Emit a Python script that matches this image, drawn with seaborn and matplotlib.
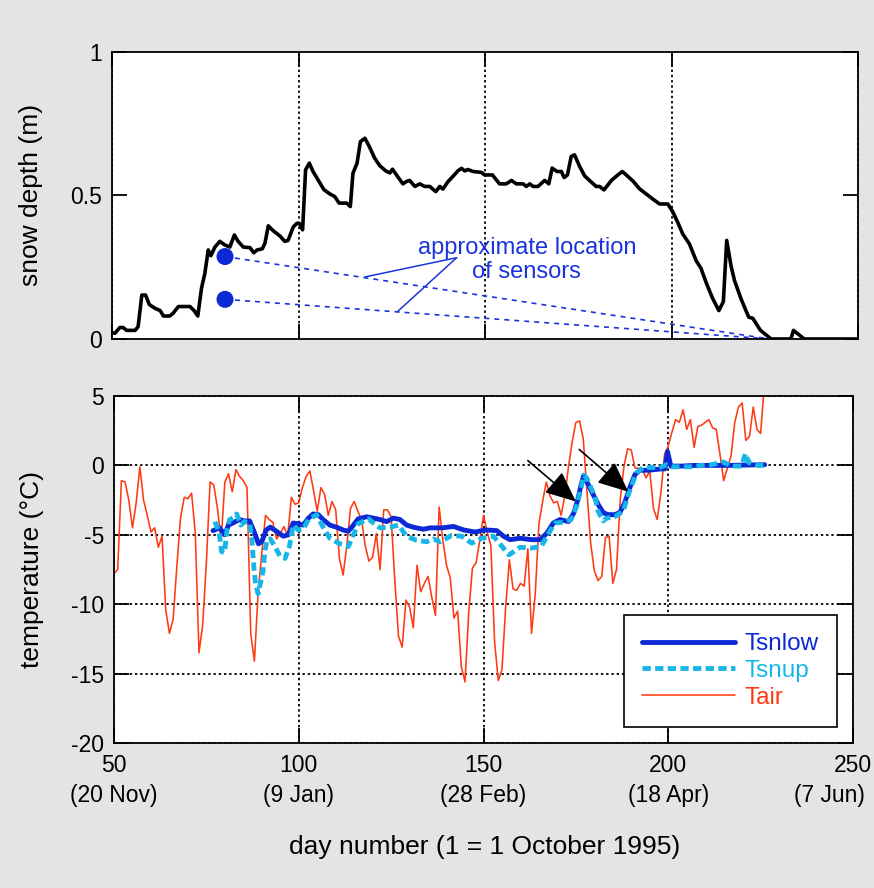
import numpy as np
import pandas as pd
import matplotlib
matplotlib.use("Agg")
import matplotlib.pyplot as plt
import seaborn as sns
from matplotlib.transforms import blended_transform_factory

# ---------------- data ----------------
snow_day = [50, 50.8, 52.1, 53, 53.9, 56.2, 57, 58, 59, 60, 61.5, 62.9, 63.8, 65.5, 66.4, 67.8,
            70.9, 72, 73, 74, 74.9, 75.8, 76.5, 77.6, 78.9, 80.3, 81.6, 82.8, 83.8, 85.2, 87, 88,
            88.9, 90.3, 91, 91.9, 93.2, 95, 96.3, 97.2, 98.6, 99.6, 100.4, 101.1, 101.9, 102.9,
            103.9, 105.5, 106.8, 108.4, 109.7, 110.9, 112.9, 113.9, 114.6, 115.7, 116.6, 117.8,
            118.9, 120.4, 121.8, 123.4, 124.5, 125.2, 126.7, 128, 128.9, 129.8, 131.2, 132.5,
            133.8, 135.2, 136.8, 137.9, 138.7, 140.1, 141.4, 142.8, 143.7, 144.6, 145.4, 146.8,
            149, 149.9, 152, 153.9, 155.7, 157.1, 158.4, 160.2, 161.1, 162, 162.9, 164.2, 166,
            167.1, 168, 169.3, 170.5, 171.2, 172.1, 173.1, 174, 175.4, 176.7, 178, 179.8, 180.7,
            181.9, 183.9, 185.6, 186.8, 188.3, 189.8, 191.4, 193.2, 195, 196.8, 199, 200.3, 201.7,
            203, 204.8, 206.6, 207.9, 209.3, 211, 212.7, 213.9, 214.8, 216, 216.9, 218.7, 220.7,
            221.8, 223.8, 226.7, 232, 232.7, 235.6, 250]
snow_depth = [0.022, 0.02, 0.04, 0.04, 0.03, 0.03, 0.043, 0.153, 0.153, 0.12, 0.107, 0.099, 0.08,
              0.08, 0.09, 0.113, 0.113, 0.099, 0.08, 0.177, 0.229, 0.31, 0.29, 0.32, 0.34, 0.327,
              0.32, 0.362, 0.34, 0.32, 0.318, 0.30, 0.31, 0.314, 0.333, 0.394, 0.377, 0.359, 0.34,
              0.343, 0.39, 0.403, 0.40, 0.38, 0.589, 0.612, 0.583, 0.548, 0.52, 0.505, 0.496,
              0.473, 0.473, 0.461, 0.577, 0.612, 0.687, 0.699, 0.672, 0.63, 0.603, 0.585, 0.578,
              0.591, 0.563, 0.54, 0.548, 0.552, 0.531, 0.54, 0.531, 0.531, 0.513, 0.531, 0.522,
              0.548, 0.566, 0.586, 0.594, 0.585, 0.59, 0.583,
              0.58, 0.571, 0.571, 0.54, 0.54, 0.552, 0.54, 0.54, 0.531, 0.54, 0.531, 0.531, 0.552,
              0.54, 0.595, 0.583, 0.583, 0.562, 0.571, 0.635, 0.641, 0.60, 0.568, 0.552, 0.531,
              0.531, 0.519, 0.552, 0.571, 0.583, 0.566, 0.548, 0.523, 0.505, 0.487, 0.47, 0.47,
              0.444, 0.405, 0.366, 0.331, 0.273, 0.246, 0.196, 0.142, 0.099, 0.13, 0.343, 0.252,
              0.203, 0.138, 0.076, 0.072, 0.031, 0.0, 0.0, 0.03, 0.0, 0.0]

sensor_day = [80.3, 80.3]
sensor_depth = [0.287, 0.138]
sensor_end_day = 226.3

tair_day = list(range(50, 227))
tair = [-7.8, -7.5, -1.1, -1.2, -2.5, -4.5, -2.7, -0.1, -2.5, -3.6,
        -4.8, -4.5, -5.9, -5.1, -10.4, -12.1, -11.1, -7.3, -3.8, -2.3,
        -2.4, -2.0, -4.9, -13.5, -11.5, -7.0, -1.2, -1.4, -3.1, -5.4,
        -1.2, -0.6, -1.9, -0.3, -0.8, -1.1, -1.6, -12.1, -14.1, -9.2,
        -6.3, -3.6, -3.9, -4.1, -5.3, -4.9, -4.4, -5.1, -2.3, -2.8,
        -2.7, -1.6, -0.8, -0.4, -1.8, -3.3, -1.6, -2.1, -3.6, -2.6,
        -3.2, -6.7, -7.9, -5.8, -3.1, -2.6, -3.3, -3.9, -5.8, -6.9,
        -6.6, -4.9, -7.5, -3.2, -3.2, -3.7, -8.3, -12.3, -13.1, -9.7,
        -10.2, -11.7, -7.2, -9.1, -8.5, -8.0, -9.5, -10.8, -3.0, -5.4,
        -7.2, -8.1, -11.0, -10.5, -14.5, -15.6, -10.6, -7.4, -7.0, -5.4,
        -3.6, -4.8, -5.8, -12.7, -15.5, -14.7, -10.2, -6.8, -8.9, -9.0,
        -8.5, -8.7, -6.0, -12.1, -9.3, -4.2, -2.6, -1.2, -2.2, -2.7,
        -2.6, -3.6, -2.2, -0.1, 1.7, 3.1, 3.2, 1.9, -1.8, -5.6,
        -7.6, -8.3, -8.0, -5.2, -5.1, -8.5, -7.5, -2.5, -0.1, 1.2,
        1.1, -0.2, -0.2, -0.3, -0.9, -0.4, -3.1, -3.9, -2.0, 0.8,
        1.4, 2.4, 3.3, 3.1, 4.0, 2.6, 3.3, 1.3, 2.8, 2.9,
        3.1, 3.3, 2.7, 2.6, 0.8, -1.1, -0.2, 0.7, 3.1, 4.2,
        4.5, 1.8, 2.1, 4.2, 2.6, 2.3, 5.8]

tsnlow_day = [76.8, 78.6, 79.9, 81.0, 82.2, 83.9, 85.3, 86.7, 88.1, 89.1, 90.0, 91.2, 92.3, 94.0,
              95.8, 97.2, 98.5, 99.9, 101.2, 102.6, 103.9, 105.3, 106.6, 108.4, 110.2, 112.0,
              113.4, 114.8, 116.1, 118.4, 120.2, 122.0, 123.8, 125.6, 127.4, 129.2, 131.0, 133.7,
              135.5, 138.7, 141.9, 144.6, 147.7, 150.5, 153.6, 155.4, 157.2, 159.9, 163.0, 165.3,
              167.1, 168.9, 170.7, 173.0, 174.4, 175.5, 176.4, 177.1, 177.9, 179.3, 181.0, 182.4,
              183.7, 185.5, 186.9, 188.2, 189.6, 191.0, 192.3, 194.6, 198.2, 199.1, 199.8, 200.7,
              203.6, 207.2, 216.2, 226.1]
tsnlow = [-4.7, -4.5, -5.0, -4.3, -4.15, -3.9, -4.0, -4.0, -4.9, -5.65, -5.5, -4.65, -4.45, -4.75,
          -5.1, -5.0, -4.15, -4.2, -4.3, -3.8, -3.5, -3.55, -3.9, -4.3, -4.45, -4.65,
          -4.75, -4.3, -3.85, -3.7, -3.8, -3.9, -4.05, -3.8, -3.9, -4.3, -4.45, -4.6,
          -4.5, -4.5, -4.4, -4.65, -4.8, -4.65, -4.7, -5.1, -5.35, -5.25, -5.35, -5.35,
          -4.9, -4.15, -3.9, -4.05, -3.45, -2.5, -1.4, -0.75, -1.15, -1.9, -2.8, -3.4,
          -3.55, -3.55, -3.4, -2.7, -1.6, -0.65, -0.35, -0.35, -0.25, -0.25, 1.0, -0.05,
          -0.05, 0.0, 0.0, 0.05]

tsnup_day = [77.3, 78.4, 79.1, 79.9, 80.6, 81.3, 82.5, 83.2, 84.3, 85.3, 86.7, 87.3, 87.9, 88.3,
             89.0, 89.7, 90.3, 90.8, 91.4, 92.3, 93.6, 94.9, 96.3, 97.5, 98.5, 99.9, 101.2, 102.6,
             104.8, 106.6, 108.4, 111.1, 113.4, 114.8, 116.1, 118.9, 120.2, 122.0, 124.7, 127.0,
             129.2, 131.9, 134.6, 136.4, 138.3, 141.4, 144.1, 146.8, 149.5, 152.7, 154.9, 156.9,
             159.9, 163.0, 165.6, 167.6, 169.4, 171.6, 173.7, 175.2, 176.4, 177.1, 177.9, 179.3,
             180.1, 181.0, 182.4, 183.3, 185.5, 187.8, 189.2, 190.3, 191.4, 193.2, 195.0, 197.7,
             199.5, 200.9, 203.6, 206.3, 209.0, 211.7, 214.9, 217.1, 219.8, 220.9, 221.8, 224.3,
             226.1]
tsnup = [-4.05, -4.75, -6.2, -6.3, -4.65, -3.9, -3.75, -3.5, -4.3, -4.05, -4.15, -5.35, -7.5, -8.5,
         -9.25, -8.4, -7.65, -6.3, -5.35, -5.3, -5.85, -6.55, -6.7, -5.8, -4.3, -4.65, -4.6, -3.9,
         -3.55, -4.45, -5.25, -5.65, -5.85, -5.0, -4.2, -3.85, -4.15, -4.5, -4.45, -4.3,
         -5.1, -5.4, -5.5, -5.3, -5.5, -5.05, -5.1, -5.6, -5.25, -5.1, -5.8, -6.45,
         -5.9, -5.95, -5.85, -4.9, -4.15, -4.1, -3.9, -2.95, -1.65, -0.7, -0.9, -1.75,
         -2.2, -3.3, -4.0, -3.8, -3.7, -3.3, -2.1, -1.3, -0.55, -0.15, -0.15, -0.15,
         0.05, -0.1, -0.1, -0.1, 0.0, 0.05, 0.25, -0.05, -0.05, 0.85, 0.2, 0.0,
         0.0]

xticks = [50, 100, 150, 200, 250]
xtick_dates = ["(20 Nov)", "(9 Jan)", "(28 Feb)", "(18 Apr)", "(7 Jun)"]
date_label_x = [50, 100, 150, 200, 243.7]
top_yticks = [0, 0.5, 1]
top_yticklabels = ["0", "0.5", "1"]
bot_yticks = [-20, -15, -10, -5, 0, 5]
bot_yticklabels = ["-20", "-15", "-10", "-5", "0", "5"]

# arrows (tail -> head) in bottom panel
arrow_tail = [(162.0, 0.35), (175.9, 1.15)]
arrow_head = [(175.0, -2.6), (189.2, -1.9)]

# ---------------- style ----------------
BG = "#e3e4e3"
C_LOW = "#0b2ad6"
C_UP = "#18b6e8"
C_AIR = "#ff3a12"
C_ANN = "#1a34dc"

sns.set_theme(style="white")
plt.rcParams["font.family"] = ["Liberation Sans", "DejaVu Sans"]
plt.rcParams["axes.unicode_minus"] = False

fig = plt.figure(figsize=(8.74, 8.88), dpi=100, facecolor=BG)
W, H = 874, 888
ax1 = fig.add_axes([112 / W, 1 - 339 / H, (858 - 112) / W, (339 - 51.7) / H])
ax2 = fig.add_axes([114 / W, 1 - 743 / H, (853 - 114) / W, (743 - 396) / H])

TICK_FS = 16.5
LAB_FS = 19
grid_ls = (0, (1.3, 1.6))

for ax in (ax1, ax2):
    ax.set_facecolor("white")
    for s in ax.spines.values():
        s.set_visible(True)
        s.set_color("black")
        s.set_linewidth(1.3)
    ax.tick_params(direction="in", length=11, width=1.3, top=True, right=True,
                   bottom=True, left=True, labelsize=TICK_FS, colors="black", pad=7)
    ax.set_xlim(50, 250)
    ax.set_xticks(xticks)

# ---- top panel ----
df_snow = pd.DataFrame({"day": snow_day, "depth": snow_depth})
sns.lineplot(data=df_snow, x="day", y="depth", ax=ax1, color="black", lw=2.6,
             sort=False, estimator=None)
ax1.set_ylim(0, 1)
ax1.set_yticks(top_yticks)
ax1.set_yticklabels(top_yticklabels)
ax1.set_xticklabels([])
ax1.xaxis.grid(True, color="black", linestyle=grid_ls, lw=1.3)
ax1.yaxis.grid(False)
ax1.set_xlabel("")
ax1.set_ylabel("snow depth (m)", fontsize=LAB_FS, color="black")
ax1.yaxis.set_label_coords(-0.092, 0.5)

for d, z in zip(sensor_day, sensor_depth):
    ax1.plot([d, sensor_end_day], [z, 0.0], color=C_ANN, lw=1.2, linestyle=(0, (3, 3)))
sns.scatterplot(x=sensor_day, y=sensor_depth, ax=ax1, s=150, color=C_LOW,
                edgecolor="none", zorder=5)
ax1.annotate("", xy=(117.8, 0.216), xytext=(142.4, 0.283),
             arrowprops=dict(arrowstyle="-", color=C_ANN, lw=1.1, shrinkA=0, shrinkB=0))
ax1.annotate("", xy=(126.6, 0.096), xytext=(142.4, 0.283),
             arrowprops=dict(arrowstyle="-", color=C_ANN, lw=1.1, shrinkA=0, shrinkB=0))
ax1.text(161.2, 0.276, "approximate location\nof sensors", color=C_ANN, fontsize=17,
         ha="center", va="center", multialignment="center", linespacing=1.12)

# ---- bottom panel ----
df_air = pd.DataFrame({"day": tair_day, "T": tair})
df_low = pd.DataFrame({"day": tsnlow_day, "T": tsnlow})
df_up = pd.DataFrame({"day": tsnup_day, "T": tsnup})
sns.lineplot(data=df_air, x="day", y="T", ax=ax2, color=C_AIR, lw=1.15, label="Tair",
             sort=False, estimator=None)
sns.lineplot(data=df_low, x="day", y="T", ax=ax2, color=C_LOW, lw=3.5, label="Tsnlow",
             sort=False, estimator=None)
sns.lineplot(data=df_up, x="day", y="T", ax=ax2, color=C_UP, lw=3.5, label="Tsnup",
             sort=False, estimator=None, linestyle=(0, (1.7, 0.9)))
ax2.set_ylim(-20, 5)
ax2.set_yticks(bot_yticks)
ax2.set_yticklabels(bot_yticklabels)
ax2.set_xticklabels([str(t) for t in xticks])
ax2.grid(True, color="black", linestyle=grid_ls, lw=1.3)
ax2.tick_params(axis="x", pad=8)
ax2.set_ylabel("temperature (°C)", fontsize=LAB_FS, color="black")
ax2.yaxis.set_label_coords(-0.095, 0.5)
ax2.set_xlabel("day number (1 = 1 October 1995)", fontsize=LAB_FS, color="black")
ax2.xaxis.set_label_coords(0.502, -0.265)

trans = blended_transform_factory(ax2.transData, ax2.transAxes)
for xd, lab in zip(date_label_x, xtick_dates):
    ax2.text(xd, -0.15, lab, transform=trans, ha="center", va="center",
             fontsize=TICK_FS, color="black", clip_on=False)

for (tx, ty), (hx, hy) in zip(arrow_tail, arrow_head):
    ax2.annotate("", xy=(hx, hy), xytext=(tx, ty),
                 arrowprops=dict(arrowstyle="-|>,head_length=0.95,head_width=0.42",
                                 mutation_scale=20, color="black", lw=1.2,
                                 shrinkA=0, shrinkB=0), zorder=6)

lines = {l.get_label(): l for l in ax2.get_lines()}
handles = [lines["Tsnlow"], lines["Tsnup"], lines["Tair"]]
leg = ax2.legend(handles=handles, labels=["Tsnlow", "Tsnup", "Tair"], loc="lower right",
                 bbox_to_anchor=(0.978, 0.046), borderaxespad=0, fontsize=17.5,
                 frameon=True, fancybox=False, edgecolor="black", framealpha=1,
                 handlelength=3.8, handletextpad=0.4, labelspacing=0.2,
                 borderpad=0.75)
leg.get_frame().set_linewidth(1.2)
for txt, h in zip(leg.get_texts(), handles):
    txt.set_color(h.get_color())

fig.savefig("out.png", dpi=100, facecolor=BG)
